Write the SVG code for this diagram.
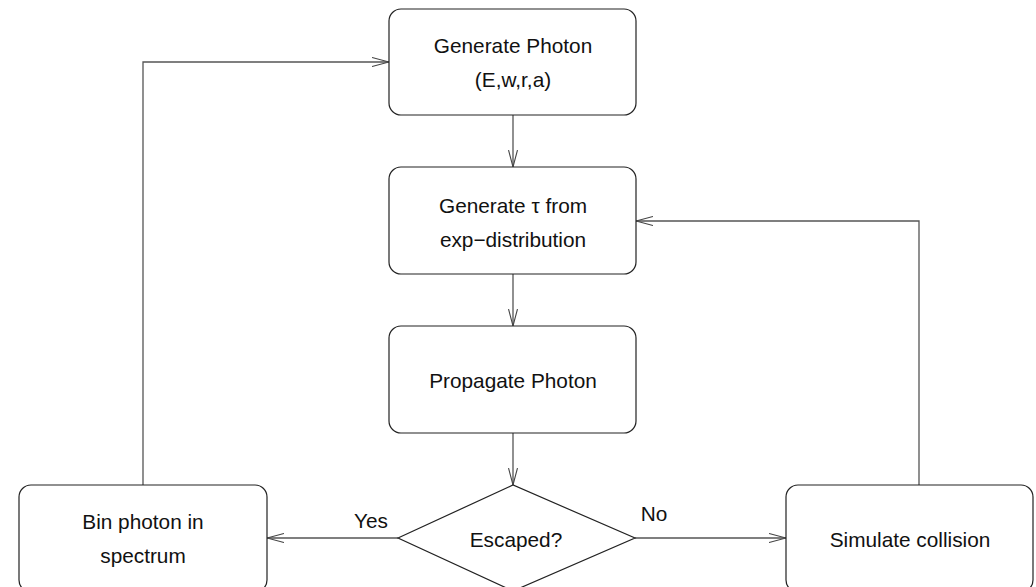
<svg xmlns="http://www.w3.org/2000/svg" width="1036" height="587" viewBox="0 0 1036 587">
<style>
.box{fill:#fff;stroke:#222;stroke-width:1.2}
.t{font-family:"Liberation Sans",Arial,sans-serif;font-size:20.8px;fill:#111;text-anchor:middle}
.c{fill:none;stroke:#555;stroke-width:1.3}
</style>
<defs>
<marker id="ah" viewBox="0 0 17 10" refX="17" refY="5" markerWidth="17" markerHeight="10" markerUnits="userSpaceOnUse" orient="auto">
<path d="M0,0.5 L17,5 L0,9.5" fill="none" stroke="#444" stroke-width="1.1"/>
</marker>
</defs>
<rect width="1036" height="587" fill="#fff"/>
<g id="connectors">
<path class="c" d="M513,115 V167" marker-end="url(#ah)"/>
<path class="c" d="M513,274 V326" marker-end="url(#ah)"/>
<path class="c" d="M513,433 V485" marker-end="url(#ah)"/>
<path class="c" d="M398,538 H267" marker-end="url(#ah)"/>
<path class="c" d="M635,538 H786" marker-end="url(#ah)"/>
<path class="c" d="M143,485 V62 H389" marker-end="url(#ah)"/>
<path class="c" d="M919,485 V221 H636" marker-end="url(#ah)"/>
<text class="t" x="371" y="528">Yes</text>
<text class="t" x="654" y="521">No</text>
</g>
<g id="generate-photon">
<rect class="box" x="389" y="9" width="247" height="106" rx="12"/>
<text class="t" x="513" y="53">Generate Photon</text>
<text class="t" x="513" y="87">(E,w,r,a)</text>
</g>
<g id="generate-tau">
<rect class="box" x="389" y="167" width="247" height="107" rx="12"/>
<text class="t" x="513" y="213">Generate τ from</text>
<text class="t" x="513" y="247">exp−distribution</text>
</g>
<g id="propagate">
<rect class="box" x="389" y="326" width="247" height="107" rx="12"/>
<text class="t" x="513" y="388">Propagate Photon</text>
</g>
<g id="escaped">
<polygon class="box" points="398,538 513,485 635,538 513,591"/>
<text class="t" x="516" y="547">Escaped?</text>
</g>
<g id="bin">
<rect class="box" x="19" y="485" width="248" height="107" rx="12"/>
<text class="t" x="143" y="529">Bin photon in</text>
<text class="t" x="143" y="563">spectrum</text>
</g>
<g id="collision">
<rect class="box" x="786" y="485" width="247" height="107" rx="12"/>
<text class="t" x="910" y="547">Simulate collision</text>
</g>
</svg>
